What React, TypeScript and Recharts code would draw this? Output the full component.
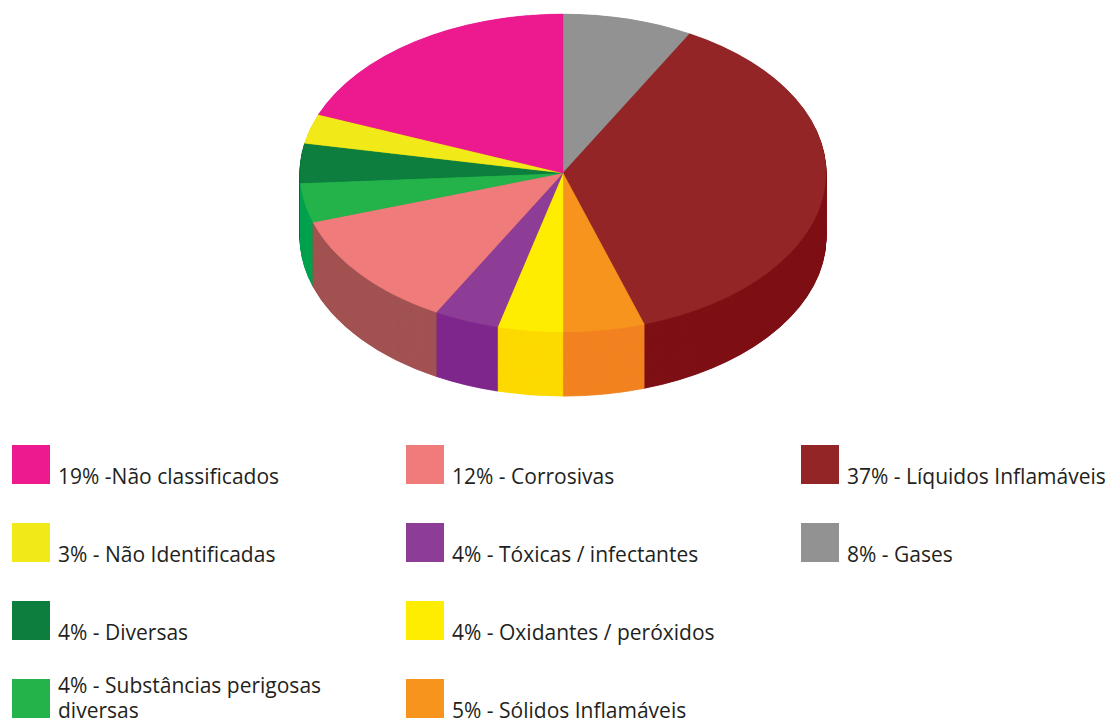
import { PieChart, Pie, Cell } from 'recharts'

// fatias no sentido horário, a partir do topo
const categories = [
  'Gases',
  'Líquidos Inflamáveis',
  'Sólidos Inflamáveis',
  'Oxidantes / peróxidos',
  'Tóxicas / infectantes',
  'Corrosivas',
  'Substâncias perigosas diversas',
  'Diversas',
  'Não Identificadas',
  'Não classificados'
]
const values = [8, 37, 5, 4, 4, 12, 4, 4, 3, 19]
const legendLabels = [
  '8% - Gases',
  '37% - Líquidos Inflamáveis',
  '5% - Sólidos Inflamáveis',
  '4% - Oxidantes / peróxidos',
  '4% - Tóxicas / infectantes',
  '12% - Corrosivas',
  '4% - Substâncias perigosas diversas',
  '4% - Diversas',
  '3% - Não Identificadas',
  '19% -Não classificados'
]
const topColors = ['#929292', '#932526', '#f7941d', '#ffed00', '#8d3d96', '#f07b7b', '#24b24b', '#0d7e3e', '#f2e918', '#ec198f']
const sideColors = ['#7c7c7c', '#7e1015', '#f38220', '#fdd900', '#7f278c', '#a35252', '#00a14f', '#086a33', '#d9d000', '#c8137a']

const data = categories.map((name, i) => ({ name, value: values[i] }))

// geometria do "3D"
const CX = 563
const CY = 173 // centro do topo na tela
const RX = 263
const RY = 159
const DEPTH = 64
const K = RY / RX
const cyU = CY / K
const depthU = DEPTH / K

const layers: number[] = []
for (let d = Math.ceil(depthU); d >= 1; d--) layers.push(d)

// legenda: 3 colunas x 4 linhas, ordem inversa das fatias
const colX = [12, 406, 801]
const rowY = [445, 523, 601, 679]
const BOX_W = 38
const BOX_H = 39

function wrap(text: string, max: number) {
  const words = text.split(' ')
  const lines: string[] = []
  let cur = ''
  for (const w of words) {
    const next = cur ? cur + ' ' + w : w
    if (next.length > max && cur) {
      lines.push(cur)
      cur = w
    } else cur = next
  }
  if (cur) lines.push(cur)
  return lines
}

function LegendBox() {
  const order = data.map((_, i) => data.length - 1 - i)
  return (
    <svg width={1108} height={723} style={{ position: 'absolute', left: 0, top: 0 }}>
      {order.map((idx, n) => {
        const col = Math.floor(n / 4)
        const row = n % 4
        const x = colX[col]
        const y = rowY[row]
        const lines = wrap(legendLabels[idx], 28)
        const base = y + BOX_H
        return (
          <g key={idx}>
            <rect x={x} y={y} width={BOX_W} height={BOX_H} fill={topColors[idx]} />
            <text x={x + 46} fontFamily="'Open Sans', sans-serif" fontSize={21} fill="#231f20">
              {lines.map((l, j) => (
                <tspan key={j} x={x + 46} y={base - (lines.length - 1 - j) * 25}>
                  {l}
                </tspan>
              ))}
            </text>
          </g>
        )
      })}
    </svg>
  )
}

export default function App() {
  return (
    <div style={{ position: 'absolute', left: 0, top: 0, width: 1108, height: 723, background: '#fff' }}>
      <div style={{ position: 'absolute', left: 0, top: 0, transform: `scaleY(${K})`, transformOrigin: '0 0' }}>
        <PieChart width={1108} height={680} margin={{ top: 0, right: 0, bottom: 0, left: 0 }}>
          {layers.map((d) => (
            <Pie
              key={'side' + d}
              data={data}
              dataKey="value"
              nameKey="name"
              cx={CX}
              cy={cyU + d}
              outerRadius={RX}
              startAngle={90}
              endAngle={-270}
              isAnimationActive={false}
              legendType="none"
            >
              {data.map((_, i) => (
                <Cell key={i} fill={sideColors[i]} stroke={sideColors[i]} strokeWidth={1} />
              ))}
            </Pie>
          ))}
          <Pie
            data={data}
            dataKey="value"
            nameKey="name"
            cx={CX}
            cy={cyU}
            outerRadius={RX}
            startAngle={90}
            endAngle={-270}
            isAnimationActive={false}
            legendType="none"
          >
            {data.map((_, i) => (
              <Cell key={i} fill={topColors[i]} stroke={topColors[i]} strokeWidth={0.5} />
            ))}
          </Pie>
        </PieChart>
      </div>
      <LegendBox />
    </div>
  )
}
